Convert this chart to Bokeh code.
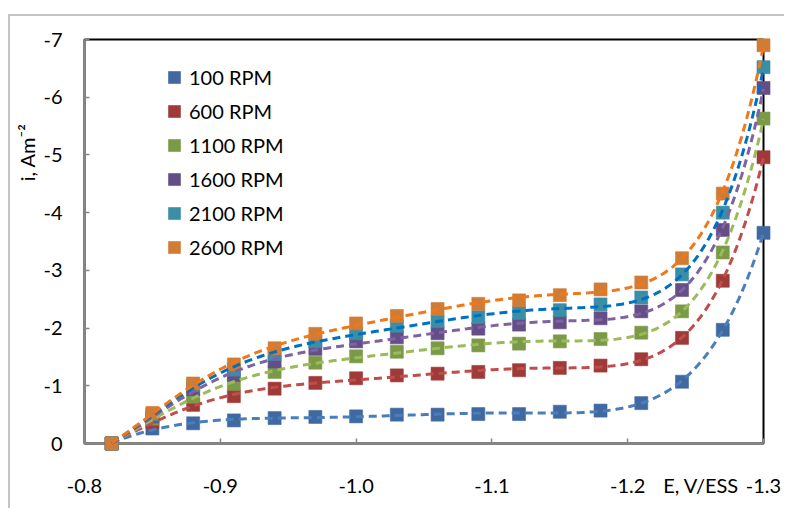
import numpy as np
from bokeh.plotting import figure
from bokeh.models import Range1d, FixedTicker, PrintfTickFormatter, Legend, LegendItem, Title
from bokeh.embed import file_html
from bokeh.resources import INLINE

# ---- data (E in V vs ESS, i in A m^-2) ----
E = [-0.82, -0.85, -0.88, -0.91, -0.94, -0.97, -1.00, -1.03, -1.06,
     -1.09, -1.12, -1.15, -1.18, -1.21, -1.24, -1.27, -1.30]
i_100 = [0, -0.26, -0.35, -0.40, -0.44, -0.46, -0.47, -0.50, -0.50,
         -0.51, -0.51, -0.55, -0.57, -0.70, -1.07, -1.97, -3.65]
i_600 = [0, -0.37, -0.67, -0.82, -0.95, -1.05, -1.13, -1.18, -1.21,
         -1.24, -1.27, -1.31, -1.35, -1.46, -1.83, -2.82, -4.96]
i_1100 = [0, -0.43, -0.81, -1.03, -1.24, -1.40, -1.51, -1.59, -1.65,
          -1.70, -1.73, -1.77, -1.81, -1.92, -2.29, -3.31, -5.63]
i_1600 = [0, -0.47, -0.94, -1.19, -1.42, -1.64, -1.77, -1.84, -1.91,
          -1.99, -2.06, -2.10, -2.17, -2.29, -2.66, -3.70, -6.16]
i_2100 = [0, -0.50, -1.01, -1.28, -1.55, -1.77, -1.91, -2.04, -2.12,
          -2.19, -2.26, -2.31, -2.41, -2.53, -2.93, -4.00, -6.52]
i_2600 = [0, -0.53, -1.04, -1.37, -1.65, -1.90, -2.08, -2.21, -2.33,
          -2.42, -2.48, -2.57, -2.67, -2.79, -3.21, -4.33, -6.90]

labels = ["100 RPM", "600 RPM", "1100 RPM", "1600 RPM", "2100 RPM", "2600 RPM"]
series = [i_100, i_600, i_1100, i_1600, i_2100, i_2600]
marker_colors = ["#3f69a0", "#9e3b39", "#7b9a47", "#654e87", "#3a8ea6", "#d17c36"]
trend_colors = ["#4a7ebb", "#c04d4a", "#9bbb59", "#7f62a2", "#0070c0", "#f07818"]

x_ticks = [-0.8, -0.9, -1.0, -1.1, -1.2, -1.3]
y_ticks = [0, -1, -2, -3, -4, -5, -6, -7]
x_title = "E, V/ESS"
x_title_pos = -1.254          # sits in the tick-label row, left of -1.3
y_title = "i, Am⁻²"

FONT = "Lato"
FS = "20px"

p = figure(width=776, height=494, output_backend="svg", toolbar_location=None,
           x_range=Range1d(-0.8, -1.3), y_range=Range1d(0, -7),
           min_border_left=74, min_border_top=23, min_border_right=23,
           min_border_bottom=67)
p.margin = (14, 0, 0, 8)
p.styles = {"border-top": "2px solid #c4c4c4", "border-left": "2px solid #c4c4c4"}
p.background_fill_color = "white"
p.border_fill_color = "white"
p.outline_line_color = "black"
p.outline_line_width = 2
p.xgrid.visible = False
p.ygrid.visible = False

for ax in (p.xaxis[0], p.yaxis[0]):
    ax.axis_line_color = "#868686"
    ax.axis_line_width = 2
    ax.major_label_text_font = FONT
    ax.major_label_text_font_size = FS
    ax.major_label_text_color = "black"

# x axis: labels on majors (incl. axis title), tick marks drawn as minors
p.xaxis.ticker = FixedTicker(ticks=x_ticks + [x_title_pos], minor_ticks=x_ticks)
p.xaxis.formatter = PrintfTickFormatter(format="%.1f")
p.xaxis.major_label_overrides = {x_title_pos: x_title}
p.xaxis.major_tick_line_color = None
p.xaxis.major_tick_in = 0
p.xaxis.major_tick_out = 0
p.xaxis.minor_tick_line_color = "#868686"
p.xaxis.minor_tick_line_width = 1.5
p.xaxis.minor_tick_in = 5
p.xaxis.minor_tick_out = 0
p.xaxis.major_label_standoff = 29

p.yaxis.ticker = FixedTicker(ticks=y_ticks)
p.yaxis.formatter = PrintfTickFormatter(format="%d")
p.yaxis.major_tick_line_color = "#868686"
p.yaxis.major_tick_line_width = 1.5
p.yaxis.major_tick_in = 5
p.yaxis.major_tick_out = 0
p.yaxis.minor_tick_line_color = None
p.yaxis.major_label_standoff = 22

p.add_layout(Title(text=y_title, align="right", offset=84, standoff=3,
                   text_font=FONT, text_font_size=FS, text_font_style="normal",
                   text_color="black"), "left")

items = []
for lab, ys, mc in zip(labels, series, marker_colors):
    r = p.scatter(E, ys, marker="square", size=13, fill_color=mc,
                  line_color=mc, line_alpha=0.6, level="overlay")
    items.append(LegendItem(label=lab, renderers=[r]))

xs_fit = np.linspace(E[0], E[-1], 240)
for ys, tc in zip(series, trend_colors):
    coef = np.polyfit(E, ys, 6)
    p.line(xs_fit, np.polyval(coef, xs_fit), line_color=tc, line_width=3,
           line_dash="8 5", level="overlay")

legend = Legend(items=items, location=(75, 181), padding=0, margin=0,
                spacing=4, glyph_width=30, glyph_height=30, label_height=30,
                label_standoff=0, border_line_color=None,
                background_fill_alpha=0, label_text_font=FONT,
                label_text_font_size=FS, label_text_color="black")
p.add_layout(legend)

open("out.html", "w").write(file_html(p, INLINE))
